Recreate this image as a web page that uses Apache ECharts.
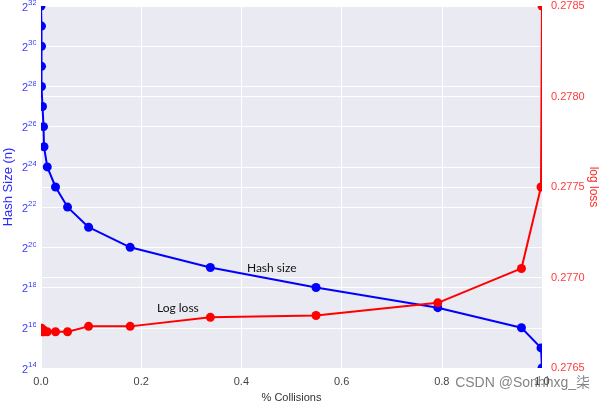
<!DOCTYPE html>
<html>
<head>
<meta charset="utf-8">
<script src="https://cdn.jsdelivr.net/npm/echarts@6/dist/echarts.min.js"></script>
<style>html,body{margin:0;padding:0;background:#fff}#c{width:600px;height:402px}</style>
</head>
<body>
<div id="c"></div>
<script>
// % collisions for each hash size
var collisions = [0.000, 0.001, 0.001, 0.001, 0.001, 0.003, 0.005, 0.006, 0.0125, 0.029, 0.053, 0.095, 0.178, 0.338, 0.549, 0.792, 0.959, 0.998, 1.000];
// hash size exponents (n = 2^k)
var hashSizeLog2 = [32, 31, 30, 29, 28, 27, 26, 25, 24, 23, 22, 21, 20, 19, 18, 17, 16, 15, 14];
// log loss for each hash size
var logLoss = [0.27672, 0.27671, 0.27672, 0.27671, 0.27671, 0.27670, 0.27671, 0.27670, 0.27670, 0.27670, 0.27670, 0.27673, 0.27673, 0.27678, 0.27679, 0.27686, 0.27705, 0.27750, 0.27850];
var xTicks = [0, 0.2, 0.4, 0.6, 0.8, 1.0];

var blueData = collisions.map(function (c, i) { return [c, hashSizeLog2[i]]; });
var redData = collisions.map(function (c, i) { return [c, logLoss[i]]; });

var GL = 41, GR = 58, GT = 6, GB = 34, W = 600, H = 402;
var chart = echarts.init(document.getElementById('c'), null, { renderer: 'canvas' });
var FONT = 'Liberation Sans';
chart.setOption({
  animation: false,
  backgroundColor: '#ffffff',
  grid: { left: GL, right: GR, top: GT, bottom: GB, show: true, backgroundColor: '#EAEAF2', borderWidth: 0,
    containLabel: false, outerBoundsMode: 'none' },
  xAxis: {
    type: 'value', min: 0, max: 1, interval: 0.2,
    name: '% Collisions', nameLocation: 'middle', nameGap: 24, nameMoveOverlap: false,
    nameTextStyle: { color: '#333', fontSize: 11, fontFamily: FONT },
    axisLine: { show: false }, axisTick: { show: false },
    axisLabel: { color: '#444', fontSize: 11, fontFamily: FONT, margin: 8,
      formatter: function (v) { return v.toFixed(1); } },
    splitLine: { show: true, lineStyle: { color: '#ffffff', width: 1 } }
  },
  yAxis: [{
    type: 'value', min: 14, max: 32, interval: 2,
    name: 'Hash Size (n)', nameLocation: 'middle', nameGap: 26, nameRotate: 90, nameMoveOverlap: false,
    nameTextStyle: { color: '#2a2aff', fontSize: 13, fontFamily: FONT },
    axisLine: { show: false }, axisTick: { show: false },
    axisLabel: {
      margin: 4,
      formatter: function (v) { return '{b|2}{s|' + v + '}'; },
      rich: {
        b: { color: '#3c3cff', fontSize: 11, fontFamily: FONT, lineHeight: 14, verticalAlign: 'bottom' },
        s: { color: '#3c3cff', fontSize: 8, fontFamily: FONT, lineHeight: 14, verticalAlign: 'top', padding: [0, 0, 5, 0] }
      }
    },
    splitLine: { show: true, lineStyle: { color: '#ffffff', width: 1 } }
  }, {
    type: 'value', min: 0.2765, max: 0.2785, interval: 0.0005,
    name: 'log loss', nameLocation: 'middle', nameGap: 45, nameRotate: -90, nameMoveOverlap: false,
    nameTextStyle: { color: '#ff2a2a', fontSize: 12, fontFamily: FONT },
    axisLine: { show: false }, axisTick: { show: false },
    axisLabel: { color: '#ff3c3c', fontSize: 11, fontFamily: FONT, margin: 9,
      formatter: function (v) { return v.toFixed(4); } },
    splitLine: { show: true, lineStyle: { color: '#ffffff', width: 1 } }
  }],
  series: [{
    name: 'Hash size', type: 'line', xAxisIndex: 0, yAxisIndex: 0,
    data: blueData, symbol: 'circle', symbolSize: 9, clip: true,
    lineStyle: { color: '#0000ff', width: 2 }, itemStyle: { color: '#0000ff' },
    markPoint: {
      symbol: 'circle', symbolSize: 0,
      data: [{ coord: [0.411, 18.96], value: 'Hash size' }],
      label: { show: true, position: 'right', distance: 0, formatter: 'Hash size',
        color: '#111', fontSize: 12, fontFamily: 'Lato' }
    }
  }, {
    name: 'Log loss', type: 'line', xAxisIndex: 0, yAxisIndex: 1,
    data: redData, symbol: 'circle', symbolSize: 9, clip: true,
    lineStyle: { color: '#ff0000', width: 2 }, itemStyle: { color: '#ff0000' },
    markPoint: {
      symbol: 'circle', symbolSize: 0,
      data: [{ coord: [0.2315, 0.27683], value: 'Log loss' }],
      label: { show: true, position: 'right', distance: 0, formatter: 'Log loss',
        color: '#111', fontSize: 12, fontFamily: 'Lato' }
    }
  }],
  graphic: [
    // white margins clip the markers at the plot edges, as in the reference
    { type: 'rect', z: 5, silent: true, shape: { x: GL - 5, y: 0, width: 5, height: H - GB }, style: { fill: '#fff' } },
    { type: 'rect', z: 5, silent: true, shape: { x: GL - 5, y: 0, width: W - GL - GR + 10, height: GT }, style: { fill: '#fff' } },
    { type: 'rect', z: 5, silent: true, shape: { x: W - GR, y: 0, width: 6, height: H - GB + 6 }, style: { fill: '#fff' } },
    { type: 'rect', z: 5, silent: true, shape: { x: GL - 5, y: H - GB, width: W - GL - GR + 11, height: 6 }, style: { fill: '#fff' } },
    { type: 'text', right: 10, bottom: 12, z: 100,
      style: { text: 'CSDN @Sonhhxg_柒', fill: 'rgba(90,90,90,0.75)', fontSize: 14,
        fontFamily: 'Liberation Sans, Noto Sans CJK SC' } }
  ]
});
</script>
</body>
</html>
